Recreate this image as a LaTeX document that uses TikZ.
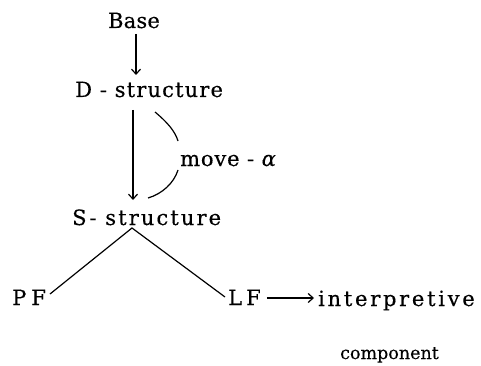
\documentclass[tikz,border=0pt]{standalone}
\usepackage{fontspec}
\setmainfont{DejaVu Serif}
\usetikzlibrary{arrows.meta}
\newcommand{\fsz}[1]{\fontsize{21}{24}\selectfont\addfontfeature{FakeBold=0.4,LetterSpace=#1}}
\begin{document}
\begin{tikzpicture}[x=1pt,y=-1pt,
  lbl/.style={inner sep=0pt,font=\fsz{5}},
  small/.style={inner sep=0pt,font=\fontsize{17.5}{20}\selectfont\addfontfeature{FakeBold=0.4}},
  arr/.style={line width=1.2pt,-{Straight Barb[length=5pt,width=9pt]}},
  ln/.style={line width=1.2pt}]
\useasboundingbox (0,0) rectangle (481,366);
\node[lbl,anchor=base,font=\fsz{1}] (base) at (134,28) {Base};
\node[lbl,anchor=base west,font=\fsz{5.5}] (dstr) at (75,97) {D - structure};
\node[lbl,anchor=base west,font=\fsz{10}] (sstr) at (72,225) {S- structure};
\node[lbl,anchor=base west,font=\fsz{4}] (mv) at (180,166) {move - \textit{α}};
\node[lbl,anchor=base west] (pf) at (12,305) {P\hspace{5pt}F};
\node[lbl,anchor=base west] (lf) at (228,305) {L\hspace{4pt}F};
\node[lbl,anchor=base west,font=\fsz{13}] (interp) at (318,306) {interpretive};
\node[small,anchor=base west] (comp) at (340,359) {component};
\coordinate (a1) at (136,34);
\coordinate (a2) at (136,75);
\coordinate (d1) at (133,110);
\coordinate (d2) at (133,200);
\coordinate (apex) at (132,228);
\coordinate (pfe) at (50,294);
\coordinate (lfe) at (225,297);
\draw[arr] (a1) -- (a2);
\draw[arr] (d1) -- (d2);
\draw[ln] (155,112) .. controls (167,122) and (175,131) .. (178,141);
\draw[ln] (178,170) .. controls (174,183) and (162,194) .. (148,198);
\draw[ln] (pfe) -- (apex) -- (lfe);
\draw[arr] ([xshift=6pt,yshift=7pt]lf.base east) -- ([xshift=-4pt,yshift=8pt]interp.base west);
\end{tikzpicture}
\end{document}
